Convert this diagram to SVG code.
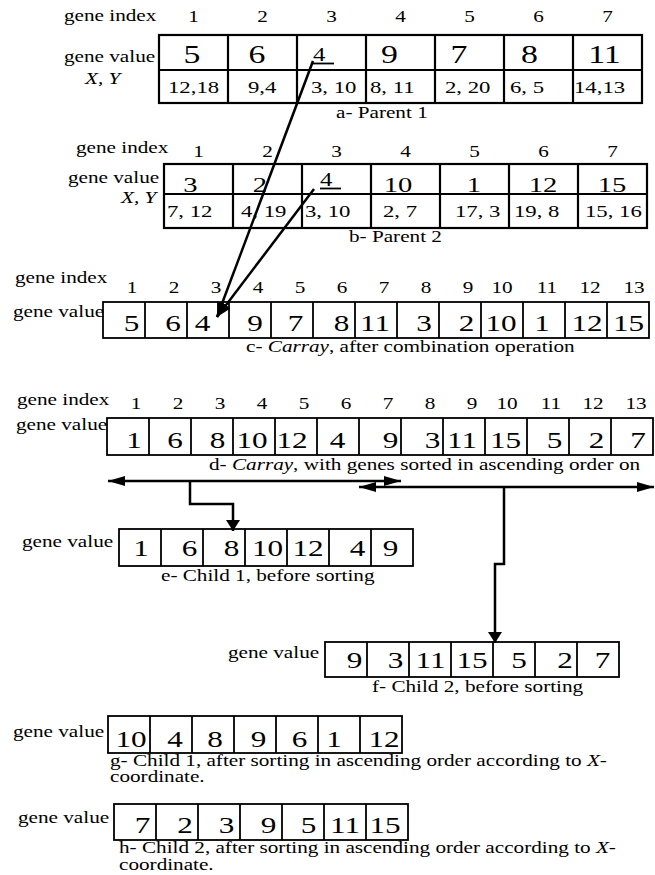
<svg xmlns="http://www.w3.org/2000/svg" width="655" height="875" viewBox="0 0 655 875">
<style>
.t{font-family:"Liberation Serif","Times New Roman",serif;fill:#000}
.l{font-size:16.3px}
.m{text-anchor:middle}
.v1{font-size:26px}
.v2{font-size:22px}
.v4{font-size:19px}
.xy{font-size:17.5px}
.cv{font-size:24px}
.i{font-style:italic}
.box{fill:#fff;stroke:#000;stroke-width:1.8}
.bp{fill:#fff;stroke:#000;stroke-width:2.2}
.dv{fill:none;stroke:#000;stroke-width:1.8}
.dp{fill:none;stroke:#000;stroke-width:2.2}
.conn{fill:none;stroke:#000;stroke-width:2.5}
</style>
<defs>
<marker id="ah" viewBox="0 0 17 10" refX="17" refY="5" markerWidth="17" markerHeight="10" markerUnits="userSpaceOnUse" orient="auto-start-reverse"><path d="M0,0 L17,5 L0,10 z" fill="#000"/></marker>
<marker id="av" viewBox="0 0 11 14" refX="11" refY="7" markerWidth="11" markerHeight="14" markerUnits="userSpaceOnUse" orient="auto"><path d="M0,0 L11,7 L0,14 z" fill="#000"/></marker>
<marker id="ad" viewBox="0 0 15 11" refX="15" refY="5.5" markerWidth="15" markerHeight="11" markerUnits="userSpaceOnUse" orient="auto"><path d="M0,0 L15,5.5 L0,11 z" fill="#000"/></marker>
</defs>
<rect width="655" height="875" fill="#fff"/>

<g id="parent1">
<rect class="bp" x="159" y="35" width="483" height="68"/>
<path class="dp" d="M159,70H642M228,35V103M297,35V103M366,35V103M435,35V103M504,35V103M573,35V103"/>
<text class="t l" transform="matrix(1.3 0 0 1 64 21)">gene index</text>
<g class="t l m">
<text transform="matrix(1.3 0 0 1 193.5 22)">1</text>
<text transform="matrix(1.3 0 0 1 262.5 22)">2</text>
<text transform="matrix(1.3 0 0 1 331.5 22)">3</text>
<text transform="matrix(1.3 0 0 1 400.5 22)">4</text>
<text transform="matrix(1.3 0 0 1 469.5 22)">5</text>
<text transform="matrix(1.3 0 0 1 538.5 22)">6</text>
<text transform="matrix(1.3 0 0 1 607.5 22)">7</text>
</g>
<text class="t l" transform="matrix(1.3 0 0 1 64 62)">gene value</text>
<text class="t l i" transform="matrix(1.3 0 0 1 85 84)">X, Y</text>
<g class="t v1 m">
<text transform="matrix(1.3 0 0 1 192 63)">5</text>
<text transform="matrix(1.3 0 0 1 257 63)">6</text>
<text transform="matrix(1.3 0 0 1 389.5 63)">9</text>
<text transform="matrix(1.3 0 0 1 459 63)">7</text>
<text transform="matrix(1.3 0 0 1 529.5 63)">8</text>
<text transform="matrix(1.3 0 0 1 604.5 63)">11</text>
</g>
<text class="t v4" transform="matrix(1.3 0 0 1 313 61)">4</text>
<path class="dv" d="M313,63.5H334" stroke-width="1.4"/>
<g class="t xy">
<text transform="matrix(1.3 0 0 1 168 93)">12,18</text>
<text transform="matrix(1.3 0 0 1 248 93)">9,4</text>
<text transform="matrix(1.3 0 0 1 311 93)">3, 10</text>
<text transform="matrix(1.3 0 0 1 370 93)">8, 11</text>
<text transform="matrix(1.3 0 0 1 445 93)">2, 20</text>
<text transform="matrix(1.3 0 0 1 510 93)">6, 5</text>
<text transform="matrix(1.3 0 0 1 574 93)">14,13</text>
</g>
<text class="t l" transform="matrix(1.3 0 0 1 336 118)">a- Parent 1</text>
</g>

<g id="parent2">
<rect class="bp" x="164" y="164" width="483" height="64"/>
<path class="dp" d="M164,194H647M302,164V228M371,164V228M440,164V228M509,164V228M578,164V228"/>
<path class="dp" d="M233,164V228" stroke-width="3.2"/>
<text class="t l" transform="matrix(1.3 0 0 1 76 153)">gene index</text>
<g class="t l m">
<text transform="matrix(1.3 0 0 1 198.5 157)">1</text>
<text transform="matrix(1.3 0 0 1 267.5 157)">2</text>
<text transform="matrix(1.3 0 0 1 336.5 157)">3</text>
<text transform="matrix(1.3 0 0 1 405.5 157)">4</text>
<text transform="matrix(1.3 0 0 1 474.5 157)">5</text>
<text transform="matrix(1.3 0 0 1 543.5 157)">6</text>
<text transform="matrix(1.3 0 0 1 612.5 157)">7</text>
</g>
<text class="t l" transform="matrix(1.3 0 0 1 68 183)">gene value</text>
<text class="t l i" transform="matrix(1.3 0 0 1 121 203)">X, Y</text>
<g class="t v2 m">
<text transform="matrix(1.3 0 0 1 190.5 192)">3</text>
<text transform="matrix(1.3 0 0 1 260 192)">2</text>
<text transform="matrix(1.3 0 0 1 398 192)">10</text>
<text transform="matrix(1.3 0 0 1 474 192)">1</text>
<text transform="matrix(1.3 0 0 1 543 192)">12</text>
<text transform="matrix(1.3 0 0 1 612 192)">15</text>
</g>
<text class="t v4" transform="matrix(1.3 0 0 1 320 186)">4</text>
<path class="dv" d="M320,188.5H341" stroke-width="1.4"/>
<g class="t xy">
<text transform="matrix(1.3 0 0 1 167 217)">7, 12</text>
<text transform="matrix(1.3 0 0 1 241 217)">4, 19</text>
<text transform="matrix(1.3 0 0 1 305 217)">3, 10</text>
<text transform="matrix(1.3 0 0 1 383 217)">2, 7</text>
<text transform="matrix(1.3 0 0 1 455 217)">17, 3</text>
<text transform="matrix(1.3 0 0 1 514 217)">19, 8</text>
<text transform="matrix(1.3 0 0 1 585 217)">15, 16</text>
</g>
<text class="t l" transform="matrix(1.3 0 0 1 349 242)">b- Parent 2</text>
</g>

<g id="carray-c">
<rect class="box" x="103" y="302" width="546" height="36"/>
<path class="dv" d="M145,302V338M187,302V338M229,302V338M271,302V338M313,302V338M355,302V338M397,302V338M439,302V338M481,302V338M523,302V338M565,302V338M607,302V338"/>
<text class="t l" transform="matrix(1.3 0 0 1 15 283)">gene index</text>
<g class="t l m">
<text transform="matrix(1.3 0 0 1 132 293)">1</text>
<text transform="matrix(1.3 0 0 1 174 293)">2</text>
<text transform="matrix(1.3 0 0 1 216 293)">3</text>
<text transform="matrix(1.3 0 0 1 258 293)">4</text>
<text transform="matrix(1.3 0 0 1 300 293)">5</text>
<text transform="matrix(1.3 0 0 1 342 293)">6</text>
<text transform="matrix(1.3 0 0 1 384 293)">7</text>
<text transform="matrix(1.3 0 0 1 426 293)">8</text>
<text transform="matrix(1.3 0 0 1 468 293)">9</text>
<text transform="matrix(1.3 0 0 1 502 293)">10</text>
<text transform="matrix(1.3 0 0 1 547 293)">11</text>
<text transform="matrix(1.3 0 0 1 590 293)">12</text>
<text transform="matrix(1.3 0 0 1 634 293)">13</text>
</g>
<text class="t l" transform="matrix(1.3 0 0 1 13 317)">gene value</text>
<g class="t cv m">
<text transform="matrix(1.3 0 0 1 131.5 331)">5</text>
<text transform="matrix(1.3 0 0 1 173 331)">6</text>
<text transform="matrix(1.3 0 0 1 202.5 331)">4</text>
<text transform="matrix(1.3 0 0 1 255 331)">9</text>
<text transform="matrix(1.3 0 0 1 295.5 331)">7</text>
<text transform="matrix(1.3 0 0 1 341.5 331)">8</text>
<text transform="matrix(1.3 0 0 1 375 331)">11</text>
<text transform="matrix(1.3 0 0 1 424 331)">3</text>
<text transform="matrix(1.3 0 0 1 466.5 331)">2</text>
<text transform="matrix(1.3 0 0 1 501 331)">10</text>
<text transform="matrix(1.3 0 0 1 542 331)">1</text>
<text transform="matrix(1.3 0 0 1 587 331)">12</text>
<text transform="matrix(1.3 0 0 1 628.5 331)">15</text>
</g>
<text class="t l" transform="matrix(1.3 0 0 1 246 352)">c- <tspan class="i">Carray</tspan>, after combination operation</text>
</g>

<g id="carray-d">
<rect class="box" x="107" y="418" width="546" height="37"/>
<path class="dv" d="M149,418V455M191,418V455M233,418V455M275,418V455M317,418V455M359,418V455M401,418V455M443,418V455M485,418V455M527,418V455M569,418V455M611,418V455"/>
<text class="t l" transform="matrix(1.3 0 0 1 17 405)">gene index</text>
<g class="t l m">
<text transform="matrix(1.3 0 0 1 136 409)">1</text>
<text transform="matrix(1.3 0 0 1 178 409)">2</text>
<text transform="matrix(1.3 0 0 1 220 409)">3</text>
<text transform="matrix(1.3 0 0 1 262 409)">4</text>
<text transform="matrix(1.3 0 0 1 304 409)">5</text>
<text transform="matrix(1.3 0 0 1 346 409)">6</text>
<text transform="matrix(1.3 0 0 1 388 409)">7</text>
<text transform="matrix(1.3 0 0 1 430 409)">8</text>
<text transform="matrix(1.3 0 0 1 472 409)">9</text>
<text transform="matrix(1.3 0 0 1 507 409)">10</text>
<text transform="matrix(1.3 0 0 1 551 409)">11</text>
<text transform="matrix(1.3 0 0 1 593 409)">12</text>
<text transform="matrix(1.3 0 0 1 636 409)">13</text>
</g>
<text class="t l" transform="matrix(1.3 0 0 1 16 430)">gene value</text>
<g class="t cv m">
<text transform="matrix(1.3 0 0 1 134 448)">1</text>
<text transform="matrix(1.3 0 0 1 175 448)">6</text>
<text transform="matrix(1.3 0 0 1 217.5 448)">8</text>
<text transform="matrix(1.3 0 0 1 252 448)">10</text>
<text transform="matrix(1.3 0 0 1 292 448)">12</text>
<text transform="matrix(1.3 0 0 1 337.5 448)">4</text>
<text transform="matrix(1.3 0 0 1 390.5 448)">9</text>
<text transform="matrix(1.3 0 0 1 432.5 448)">3</text>
<text transform="matrix(1.3 0 0 1 462 448)">11</text>
<text transform="matrix(1.3 0 0 1 505.5 448)">15</text>
<text transform="matrix(1.3 0 0 1 554.5 448)">5</text>
<text transform="matrix(1.3 0 0 1 596.5 448)">2</text>
<text transform="matrix(1.3 0 0 1 638 448)">7</text>
</g>
<text class="t l" transform="matrix(1.3 0 0 1 209 470)">d- <tspan class="i">Carray</tspan>, with genes sorted in ascending order on</text>
</g>

<g id="child1-before">
<rect class="box" x="119" y="529" width="294" height="37"/>
<path class="dv" d="M161,529V566M203,529V566M245,529V566M287,529V566M329,529V566M371,529V566"/>
<text class="t l" transform="matrix(1.3 0 0 1 22 547)">gene value</text>
<g class="t cv m">
<text transform="matrix(1.3 0 0 1 141 556)">1</text>
<text transform="matrix(1.3 0 0 1 189.5 556)">6</text>
<text transform="matrix(1.3 0 0 1 231.5 556)">8</text>
<text transform="matrix(1.3 0 0 1 267.5 556)">10</text>
<text transform="matrix(1.3 0 0 1 308 556)">12</text>
<text transform="matrix(1.3 0 0 1 357.5 556)">4</text>
<text transform="matrix(1.3 0 0 1 390.5 556)">9</text>
</g>
<text class="t l" transform="matrix(1.3 0 0 1 161 581)">e- Child 1, before sorting</text>
</g>

<g id="child2-before">
<rect class="box" x="325" y="642" width="294" height="35"/>
<path class="dv" d="M367,642V677M409,642V677M451,642V677M493,642V677M535,642V677M577,642V677"/>
<text class="t l" transform="matrix(1.3 0 0 1 228 658)">gene value</text>
<g class="t cv m">
<text transform="matrix(1.3 0 0 1 354.5 668)">9</text>
<text transform="matrix(1.3 0 0 1 395.5 668)">3</text>
<text transform="matrix(1.3 0 0 1 430.5 668)">11</text>
<text transform="matrix(1.3 0 0 1 472 668)">15</text>
<text transform="matrix(1.3 0 0 1 519 668)">5</text>
<text transform="matrix(1.3 0 0 1 565 668)">2</text>
<text transform="matrix(1.3 0 0 1 602.5 668)">7</text>
</g>
<text class="t l" transform="matrix(1.3 0 0 1 372 692)">f- Child 2, before sorting</text>
</g>

<g id="child1-sorted">
<rect class="box" x="108" y="716" width="294" height="37"/>
<path class="dv" d="M150,716V753M192,716V753M234,716V753M276,716V753M318,716V753M360,716V753"/>
<text class="t l" transform="matrix(1.3 0 0 1 13 737)">gene value</text>
<g class="t cv m">
<text transform="matrix(1.3 0 0 1 131 747)">10</text>
<text transform="matrix(1.3 0 0 1 175 747)">4</text>
<text transform="matrix(1.3 0 0 1 215 747)">8</text>
<text transform="matrix(1.3 0 0 1 258.5 747)">9</text>
<text transform="matrix(1.3 0 0 1 299.5 747)">6</text>
<text transform="matrix(1.3 0 0 1 334 747)">1</text>
<text transform="matrix(1.3 0 0 1 384 747)">12</text>
</g>
<text class="t l" transform="matrix(1.3 0 0 1 110 766)">g- Child 1, after sorting in ascending order according to <tspan class="i">X</tspan>-</text>
<text class="t l" transform="matrix(1.3 0 0 1 110 782)">coordinate.</text>
</g>

<g id="child2-sorted">
<rect class="box" x="114" y="804" width="294" height="36"/>
<path class="dv" d="M156,804V840M198,804V840M240,804V840M282,804V840M324,804V840M366,804V840"/>
<text class="t l" transform="matrix(1.3 0 0 1 18 823)">gene value</text>
<g class="t cv m">
<text transform="matrix(1.3 0 0 1 142.5 833)">7</text>
<text transform="matrix(1.3 0 0 1 185 833)">2</text>
<text transform="matrix(1.3 0 0 1 226.5 833)">3</text>
<text transform="matrix(1.3 0 0 1 268.5 833)">9</text>
<text transform="matrix(1.3 0 0 1 308.5 833)">5</text>
<text transform="matrix(1.3 0 0 1 345 833)">11</text>
<text transform="matrix(1.3 0 0 1 385 833)">15</text>
</g>
<text class="t l" transform="matrix(1.3 0 0 1 119 853)">h- Child 2, after sorting in ascending order according to <tspan class="i">X</tspan>-</text>
<text class="t l" transform="matrix(1.3 0 0 1 119 870)">coordinate.</text>
</g>

<g id="connectors">
<line class="conn" x1="313" y1="61" x2="217" y2="317" marker-end="url(#ad)"/>
<line class="conn" x1="314" y1="189" x2="217" y2="317" marker-end="url(#ad)"/>
<line class="conn" x1="108" y1="481" x2="401" y2="481" marker-start="url(#ah)" marker-end="url(#ah)"/>
<line class="conn" x1="359" y1="487" x2="654" y2="487" marker-start="url(#ah)" marker-end="url(#ah)"/>
<polyline class="conn" points="190,481 190,504 233,504 233,531" marker-end="url(#av)"/>
<polyline class="conn" points="504,487 504,564 495,564 495,643" marker-end="url(#av)"/>
</g>
</svg>
